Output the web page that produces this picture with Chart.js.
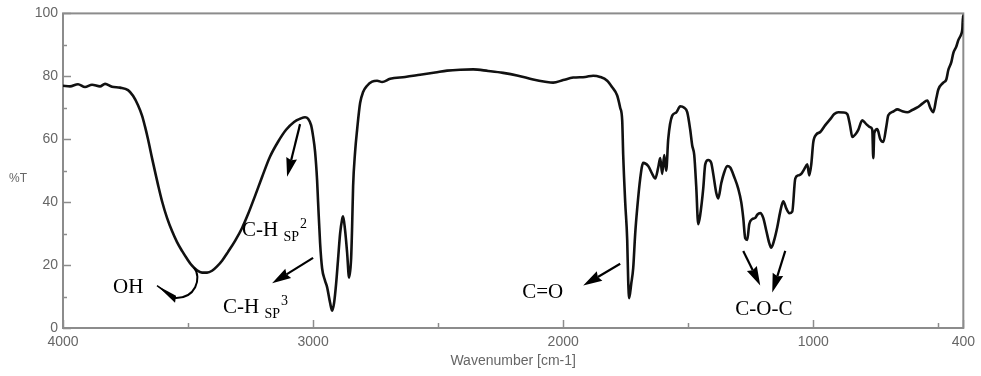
<!DOCTYPE html>
<html>
<head>
<meta charset="utf-8">
<title>IR spectrum</title>
<script src="https://cdn.jsdelivr.net/npm/chart.js@4.4.1/dist/chart.umd.min.js"></script>
<style>
  html, body { margin: 0; padding: 0; background: #fff; }
  canvas { display: block; }
</style>
</head>
<body>
<canvas id="irChart" width="981" height="376"></canvas>
<script>
const wavenumbers = [
    4000, 3972, 3940, 3912, 3884, 3852, 3832, 3804, 3772, 3740, 3720, 3700, 3684, 3672, 3660,
    3644, 3632, 3620, 3604, 3584, 3564, 3544, 3524, 3504, 3484, 3464, 3444, 3424, 3404, 3384,
    3364, 3340, 3312, 3284, 3260, 3232, 3204, 3172, 3140, 3108, 3076, 3052, 3032, 3020, 3008,
    3000, 2992, 2984, 2980, 2972, 2964, 2952, 2944, 2932, 2924, 2916, 2908, 2900, 2892, 2884,
    2880, 2872, 2864, 2856, 2848, 2844, 2840, 2832, 2824, 2812, 2800, 2784, 2764, 2744, 2724,
    2692, 2632, 2572, 2512, 2464, 2412, 2360, 2300, 2240, 2180, 2120, 2072, 2040, 2000, 1960,
    1912, 1880, 1852, 1824, 1804, 1784, 1772, 1764, 1760, 1752, 1744, 1740, 1736, 1728, 1720,
    1712, 1704, 1692, 1680, 1660, 1644, 1632, 1620, 1612, 1604, 1596, 1588, 1580, 1564, 1548,
    1532, 1516, 1504, 1492, 1484, 1476, 1468, 1460, 1452, 1440, 1432, 1420, 1408, 1400, 1388,
    1380, 1368, 1356, 1344, 1332, 1316, 1300, 1288, 1280, 1272, 1264, 1256, 1244, 1232, 1224,
    1212, 1200, 1188, 1176, 1168, 1156, 1144, 1132, 1120, 1108, 1096, 1084, 1072, 1060, 1048,
    1036, 1024, 1016, 1008, 1000, 988, 972, 952, 932, 916, 900, 880, 864, 852, 844,
    832, 820, 804, 788, 772, 764, 760, 756, 744, 732, 720, 708, 700, 680, 664,
    644, 624, 604, 584, 564, 544, 532, 520, 508, 500, 480, 468, 460, 448, 440,
    428, 420, 408, 404, 401, 400
];

// transmittance (%T) for each wavenumber above
const transmittance = [
    77, 76.8, 77.5, 76.6, 77.3, 76.8, 77.6, 76.7, 76.4, 75.6, 73.8, 70.8, 67.5, 64, 60,
    54, 49.7, 45.5, 40.3, 35, 30.8, 27.3, 24.5, 22, 19.8, 18.3, 17.6, 17.6, 18.2, 19.6,
    21.4, 24.2, 27.7, 31.8, 36.2, 42, 48, 54.5, 59.2, 63, 65.5, 66.5, 67, 66.5, 64.5,
    61, 56, 47, 40, 27, 19, 15, 13, 8, 5.5, 8, 14, 22, 30, 34.5,
    35.5, 31, 24, 16, 22, 32, 45, 56, 63, 71.5, 75, 77, 78.3, 78.6, 78.2,
    79.2, 79.8, 80.5, 81.2, 81.8, 82.1, 82.2, 81.7, 81.1, 80.2, 79, 78.3, 78, 78.8, 79.6,
    79.8, 80.2, 79.8, 78.6, 76.5, 73.9, 70, 66, 55, 40, 28, 15, 9.5, 14, 19,
    30, 38, 47.5, 52.5, 51.5, 49, 47.5, 51, 54, 49, 55, 50, 60, 67.5, 68.5,
    70.5, 70, 68.6, 63, 58, 55, 45, 33, 36, 44.3, 52, 53.4, 52.5, 49, 43,
    41.2, 46, 49.5, 51.5, 51, 48, 44.3, 40, 35, 28.5, 28, 33, 34.6, 35, 36,
    36.5, 35, 31, 27, 25.5, 28, 32, 37, 40.3, 38, 36.5, 37, 47.5, 48.5, 49,
    50.5, 52, 48.5, 52, 59, 61.5, 62.3, 64.5, 66.4, 68, 68.6, 68.5, 68, 64, 60.7,
    61.5, 63, 66, 64.8, 63.8, 63, 54, 62, 63.2, 60, 59.1, 64, 67.6, 68.8, 69.5,
    68.9, 68.6, 69.3, 70.1, 71.3, 72.3, 70, 68.6, 73, 75.8, 78, 79, 82, 84.5, 87.4,
    89.5, 91.5, 93.5, 95, 99.3, 97
];

// tick positions
const xTicks = [4000, 3500, 3000, 2500, 2000, 1500, 1000, 500, 400];
const xTickLabels = [4000, 3000, 2000, 1000, 400];
const yTicks = [0, 10, 20, 30, 40, 50, 60, 70, 80, 90, 100];
const yTickLabels = [0, 20, 40, 60, 80, 100];

// band labels, placed in data units (wavenumber, %T) of their left baseline
const bandLabels = [
    { text: 'OH', sub: '', sup: '', wn: 3800, t: 11.0 },
    { text: 'C-H', sub: 'SP', sup: '2', wn: 3284, t: 29.2 },
    { text: 'C-H', sub: 'SP', sup: '3', wn: 3360, t: 4.7 },
    { text: 'C=O', sub: '', sup: '', wn: 2164, t: 9.4 },
    { text: 'C-O-C', sub: '', sup: '', wn: 1312, t: 4.1 }
];

// arrows: [wn start, %T start, wn end, %T end]
const arrowLines = [
    [3052, 64.8, 3104, 48.1],
    [3000, 22.3, 3164, 14.2],
    [1772, 20.4, 1920, 13.5],
    [1280, 24.5, 1212, 13.5],
    [1112, 24.5, 1164, 11.3]
];

document.addEventListener('DOMContentLoaded', function () {
    const axisGrey = '#8c8c8c';
    const textGrey = '#666';
    const sans = '"Liberation Sans", Arial, sans-serif';

    const points = wavenumbers.map((wn, i) => ({ x: wn, y: transmittance[i] }));

    // frame + inward tick marks, like the instrument printout
    const framePlugin = {
        id: 'frame',
        beforeDatasetsDraw(chart) {
            const ctx = chart.ctx;
            const area = chart.chartArea;
            const xs = chart.scales.x;
            const ys = chart.scales.y;
            ctx.save();
            ctx.strokeStyle = axisGrey;
            ctx.lineWidth = 2;
            ctx.strokeRect(area.left, area.top, area.right - area.left, area.bottom - area.top);

            ctx.lineWidth = 1.5;
            xTicks.forEach(v => {
                const px = Math.round(xs.getPixelForValue(v)) + 0.5;
                const len = xTickLabels.includes(v) ? 8 : 5;
                ctx.beginPath();
                ctx.moveTo(px, area.bottom);
                ctx.lineTo(px, area.bottom - len);
                ctx.stroke();
            });
            yTicks.forEach(v => {
                const py = Math.round(ys.getPixelForValue(v)) + 0.5;
                const len = yTickLabels.includes(v) ? 8 : 4;
                ctx.beginPath();
                ctx.moveTo(area.left, py);
                ctx.lineTo(area.left + len, py);
                ctx.stroke();
            });

            // %T label (horizontal)
            ctx.fillStyle = textGrey;
            ctx.font = '12px ' + sans;
            ctx.textAlign = 'left';
            ctx.textBaseline = 'middle';
            ctx.fillText('%T', 9, ys.getPixelForValue(47.5));
            ctx.restore();
        }
    };

    function drawArrow(ctx, x1, y1, x2, y2) {
        const ang = Math.atan2(y2 - y1, x2 - x1);
        const headLen = 19;
        const headW = 5.5;
        const bx = x2 - headLen * Math.cos(ang);
        const by = y2 - headLen * Math.sin(ang);
        ctx.beginPath();
        ctx.moveTo(x1, y1);
        ctx.lineTo(bx + 2 * Math.cos(ang), by + 2 * Math.sin(ang));
        ctx.stroke();
        ctx.beginPath();
        ctx.moveTo(x2, y2);
        ctx.lineTo(bx + headW * Math.sin(ang), by - headW * Math.cos(ang));
        ctx.lineTo(bx + 2 * Math.cos(ang), by + 2 * Math.sin(ang));
        ctx.lineTo(bx - headW * Math.sin(ang), by + headW * Math.cos(ang));
        ctx.closePath();
        ctx.fill();
    }

    // band assignments drawn on top of the spectrum
    const labelPlugin = {
        id: 'bandLabels',
        afterDatasetsDraw(chart) {
            const ctx = chart.ctx;
            const xs = chart.scales.x;
            const ys = chart.scales.y;
            ctx.save();
            ctx.fillStyle = '#000';
            ctx.strokeStyle = '#000';
            ctx.textAlign = 'left';
            ctx.textBaseline = 'alphabetic';

            bandLabels.forEach(lab => {
                let px = xs.getPixelForValue(lab.wn);
                const py = ys.getPixelForValue(lab.t);
                ctx.font = '21px "Liberation Serif", "Times New Roman", serif';
                ctx.fillText(lab.text, px, py);
                px += ctx.measureText(lab.text + ' ').width;
                if (lab.sub) {
                    ctx.font = '14px "Liberation Serif", "Times New Roman", serif';
                    ctx.fillText(lab.sub, px, py + 5);
                    px += ctx.measureText(lab.sub).width + 1;
                }
                if (lab.sup) {
                    ctx.font = '14px "Liberation Serif", "Times New Roman", serif';
                    ctx.fillText(lab.sup, px, py - 8);
                }
            });

            ctx.lineWidth = 2.2;
            arrowLines.forEach(a => {
                drawArrow(ctx,
                    xs.getPixelForValue(a[0]), ys.getPixelForValue(a[1]),
                    xs.getPixelForValue(a[2]), ys.getPixelForValue(a[3]));
            });

            // curved arrow from the OH band towards its label
            const sx = xs.getPixelForValue(3476), sy = ys.getPixelForValue(19.2);
            const ex = xs.getPixelForValue(3560), ey = ys.getPixelForValue(9.6);
            ctx.lineWidth = 2;
            ctx.beginPath();
            ctx.moveTo(sx, sy);
            ctx.bezierCurveTo(sx + 8, sy + 10, sx + 2, ey + 2, ex, ey);
            ctx.stroke();
            const tx = xs.getPixelForValue(3624), ty = ys.getPixelForValue(13.5);
            ctx.beginPath();
            ctx.moveTo(tx, ty);
            ctx.lineTo(ex + 3, ey - 2);
            ctx.lineTo(ex + 2, ey + 5);
            ctx.closePath();
            ctx.fill();
            ctx.lineWidth = 1.5;
            ctx.beginPath();
            ctx.moveTo(tx, ty);
            ctx.lineTo(ex + 2, ey + 1);
            ctx.stroke();
            ctx.restore();
        }
    };

    const ctx = document.getElementById('irChart').getContext('2d');

    new Chart(ctx, {
        type: 'line',
        data: {
            datasets: [{
                label: '%T',
                data: points,
                borderColor: '#111',
                borderWidth: 2.6,
                pointRadius: 0,
                fill: false,
                cubicInterpolationMode: 'monotone'
            }]
        },
        options: {
            responsive: false,
            animation: false,
            devicePixelRatio: 1,
            layout: { padding: { top: 10, right: 16, left: 0, bottom: 0 } },
            plugins: {
                legend: { display: false },
                tooltip: { enabled: false }
            },
            scales: {
                x: {
                    type: 'linear',
                    reverse: true,
                    min: 400,
                    max: 4000,
                    grid: { display: false, drawTicks: false, tickLength: 0 },
                    border: { display: false },
                    afterBuildTicks: scale => {
                        scale.ticks = xTicks.map(v => ({ value: v }));
                    },
                    afterFit: scale => { scale.height = 48; },
                    ticks: {
                        autoSkip: false,
                        maxRotation: 0,
                        padding: 6,
                        color: textGrey,
                        font: { family: sans, size: 14 },
                        callback: v => xTickLabels.includes(v) ? String(v) : ''
                    },
                    title: {
                        display: true,
                        text: 'Wavenumber [cm-1]',
                        color: textGrey,
                        font: { family: sans, size: 14 },
                        padding: { top: 0, bottom: 6 }
                    }
                },
                y: {
                    min: 0,
                    max: 100,
                    grid: { display: false, drawTicks: false, tickLength: 0 },
                    border: { display: false },
                    afterBuildTicks: scale => {
                        scale.ticks = yTicks.map(v => ({ value: v }));
                    },
                    afterFit: scale => { scale.width = 63; },
                    ticks: {
                        autoSkip: false,
                        padding: 5,
                        color: textGrey,
                        font: { family: sans, size: 14 },
                        callback: v => yTickLabels.includes(v) ? String(v) : ''
                    }
                }
            }
        },
        plugins: [framePlugin, labelPlugin]
    });
});
</script>
</body>
</html>
